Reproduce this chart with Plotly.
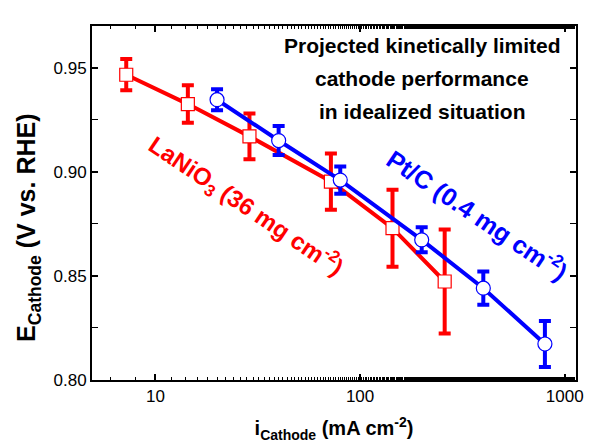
import plotly.graph_objects as go

# LaNiO3 data
la_x = [7.2, 14.4, 28.8, 72, 144, 259]
la_y = [0.9466, 0.9325, 0.9170, 0.8953, 0.8729, 0.8473]
la_err = [0.0075, 0.009, 0.011, 0.0135, 0.0185, 0.025]

# Pt/C data
pt_x = [20, 40, 80, 200, 400, 800]
pt_y = [0.9346, 0.9150, 0.8960, 0.8673, 0.8441, 0.8173]
pt_err = [0.005, 0.007, 0.0065, 0.006, 0.008, 0.011]

FONT = "Liberation Sans, Arial, sans-serif"
RED = "#ff0000"
BLUE = "#0000ff"

fig = go.Figure()
fig.add_trace(go.Scatter(
    x=la_x, y=la_y, mode="lines+markers",
    line=dict(color=RED, width=4),
    marker=dict(symbol="square", size=13, color="white", line=dict(color=RED, width=1.2)),
    error_y=dict(type="data", array=la_err, visible=True, color=RED, thickness=4, width=6),
    showlegend=False,
))
fig.add_trace(go.Scatter(
    x=pt_x, y=pt_y, mode="lines+markers",
    line=dict(color=BLUE, width=4),
    marker=dict(symbol="circle", size=14, color="white", line=dict(color=BLUE, width=1.2)),
    error_y=dict(type="data", array=pt_err, visible=True, color=BLUE, thickness=4, width=6),
    showlegend=False,
))

axis_common = dict(
    showline=True, linecolor="black", linewidth=2, mirror="allticks",
    ticks="inside", ticklen=6, tickwidth=1.5, tickcolor="black",
    showgrid=False, zeroline=False,
    tickfont=dict(family=FONT, size=17, color="black"),
)

fig.update_xaxes(
    type="log", range=[0.69, 3.055],
    tickvals=[10, 100, 1000], ticktext=["10", "100", "1000"],
    minor=dict(ticks="inside", ticklen=3, tickwidth=1.2, tickcolor="black", showgrid=False),
    title=dict(text="<b>i<sub>Cathode</sub> (mA cm<sup>-2</sup>)</b>",
               font=dict(family=FONT, size=20, color="black"), standoff=16),
    **axis_common,
)
fig.update_yaxes(
    range=[0.80, 0.97], tickvals=[0.80, 0.85, 0.90, 0.95],
    ticktext=["0.80", "0.85", "0.90", "0.95"],
    minor=dict(ticks="inside", ticklen=6, tickwidth=1.2, tickcolor="black",
               dtick=0.025, tick0=0.8, showgrid=False),
    **axis_common,
)

# y-axis title as a rotated annotation for exact placement
fig.add_annotation(x=-0.132, y=0.43, xref="paper", yref="paper",
                   text="<b>E<sub>Cathode</sub> (V vs. RHE)</b>", textangle=-90,
                   xanchor="center", yanchor="middle", showarrow=False,
                   font=dict(family=FONT, size=25, color="black"))

lines = ["Projected kinetically limited", "cathode performance", "in idealized situation"]
ys = [0.944, 0.852, 0.758]
for t, yy in zip(lines, ys):
    fig.add_annotation(x=0.682, y=yy, xref="paper", yref="paper", text=f"<b>{t}</b>",
                       xanchor="center", yanchor="middle",
                       showarrow=False, font=dict(family=FONT, size=21, color="black"))

fig.add_annotation(x=0.318, y=0.492, xref="paper", yref="paper",
                   text="<b>LaNiO<sub>3</sub> (36 mg cm<sup>-2</sup>)</b>", textangle=34,
                   xanchor="center", yanchor="middle",
                   showarrow=False, font=dict(family=FONT, size=24, color=RED))
fig.add_annotation(x=0.797, y=0.468, xref="paper", yref="paper",
                   text="<b>Pt/C (0.4 mg cm<sup>-2</sup>)</b>", textangle=34,
                   xanchor="center", yanchor="middle",
                   showarrow=False, font=dict(family=FONT, size=25, color=BLUE))

fig.update_layout(
    width=593, height=448,
    margin=dict(l=92, r=10, t=26, b=68),
    plot_bgcolor="white", paper_bgcolor="white",
)

fig.write_html("out.html", config={"displayModeBar": False},
               post_script="document.body.style.margin='0';")
